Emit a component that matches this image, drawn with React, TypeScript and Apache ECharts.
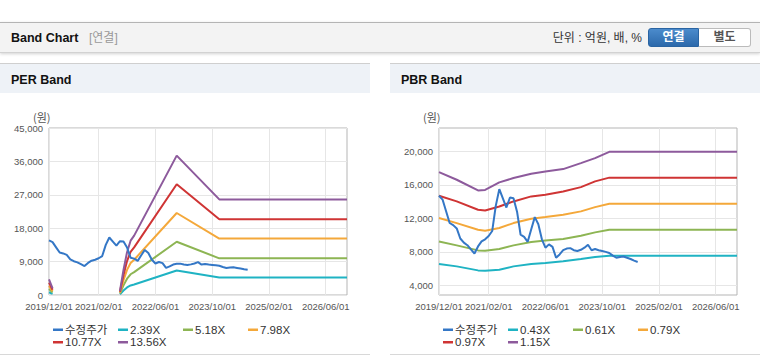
import React, { useEffect, useRef } from 'react';
import * as echarts from 'echarts';

// ---------- categories (monthly, 2019/12 .. 2026/12) ----------
const months: string[] = [];
for (let i = 0; i < 85; i++) {
  const t = 11 + i;
  const y = 2019 + Math.floor(t / 12);
  const m = (t % 12) + 1;
  months.push(`${y}/${String(m).padStart(2, '0')}/01`);
}
const xTickLabels = ['2019/12/01', '2021/02/01', '2022/06/01', '2023/10/01', '2025/02/01', '2026/06/01'];
const pbrTicks = [4000, 8000, 12000, 16000, 20000];

// ---------- adjusted price (monthly from 2019/12) ----------
const price = [
  14700, 14250, 12850, 11450, 11200, 10800, 9600, 9100, 8800, 8300,
  7800, 8650, 9250, 9500, 9900, 10500, 13500, 15500, 14400, 13300,
  14500, 14400, 12800, 10050, 9800, 9200, 10700, 12150, 11300, 9500,
  8500, 8900, 8600, 7300, 7700, 8200, 8400, 8450, 8200, 8100,
  8250, 8500, 8850, 8200, 8350, 8200, 8100, 8000, 7870, 7550,
  7300, 7400, 7450, 7300, 7150, 6950, 6800,
];

// ---------- PER bands: [month index, value] ----------
const per239 = [[0, 740], [1, 310], [2, null], [20, 190], [21, 1200], [22, 2030], [23, 2580], [24, 2840], [36, 6620], [48, 4700], [84, 4700]];
const per518 = [[0, 1610], [1, 670], [2, null], [20, 410], [21, 2590], [22, 4400], [23, 5590], [24, 6160], [36, 14350], [48, 9880], [84, 9880]];
const per798 = [[0, 2470], [1, 1040], [2, null], [20, 640], [21, 3990], [22, 6780], [23, 8620], [24, 9500], [36, 22100], [48, 15200], [84, 15200]];
const per1077 = [[0, 3340], [1, 1400], [2, null], [20, 860], [21, 5390], [22, 9150], [23, 11630], [24, 12820], [36, 29830], [48, 20420], [84, 20420]];
const per1356 = [[0, 4200], [1, 1760], [2, null], [20, 1080], [21, 6780], [22, 11530], [23, 14640], [24, 16000], [36, 37560], [48, 25760], [84, 25760]];

// ---------- PBR bands: [month index, value] ----------
const pbr043 = [[0, 6550], [5, 6270], [11, 5790], [13, 5750], [17, 5870], [21, 6270], [26, 6550], [30, 6670], [35, 6870], [40, 7140], [44, 7380], [48, 7540], [84, 7540]];
const pbr061 = [[0, 9250], [5, 8780], [11, 8180], [13, 8140], [17, 8340], [21, 8780], [26, 9170], [30, 9370], [35, 9530], [40, 9930], [44, 10330], [48, 10650], [84, 10650]];
const pbr079 = [[0, 12040], [5, 11440], [11, 10650], [13, 10530], [17, 10850], [21, 11440], [26, 11960], [30, 12160], [35, 12440], [40, 12840], [44, 13350], [48, 13750], [84, 13750]];
const pbr097 = [[0, 14710], [5, 14030], [11, 13030], [13, 12950], [17, 13430], [21, 14030], [26, 14630], [30, 14830], [35, 15220], [40, 15740], [44, 16420], [48, 16870], [84, 16870]];
const pbr115 = [[0, 17530], [5, 16620], [11, 15340], [13, 15400], [17, 16300], [21, 16820], [26, 17330], [30, 17610], [35, 17890], [40, 18610], [44, 19200], [48, 19950], [84, 19950]];

const perNames = ['수정주가', '2.39X', '5.18X', '7.98X', '10.77X', '13.56X'];
const pbrNames = ['수정주가', '0.43X', '0.61X', '0.79X', '0.97X', '1.15X'];
const colors = ['#3477c6', '#1fb3c3', '#8db553', '#f4a83a', '#cf3434', '#8d5a9c'];

const latin = "'Liberation Sans', Arial, 'Noto Sans CJK KR', sans-serif";
const tickIdx = new Set(xTickLabels.map((l) => months.indexOf(l)));
const showTick = (i: number) => tickIdx.has(i);
const fmt = (v: number) => v.toLocaleString('en-US');

function buildOption() {
  const axisFont = { fontSize: 9.5, color: '#555', fontFamily: latin };
  const grids = [49, 439].map((left) => ({
    left, top: 128, width: 298, height: 167, show: true,
    borderColor: '#b5b5b5', borderWidth: 1, backgroundColor: 'transparent',
  }));
  const xAxis = [0, 1].map((g) => ({
    type: 'category', gridIndex: g, data: months, boundaryGap: false,
    axisLine: { show: false }, axisTick: { show: false },
    axisLabel: { interval: showTick, margin: 7, ...axisFont },
    splitLine: { show: true, interval: showTick, lineStyle: { color: '#e6e6e6' } },
  }));
  const yAxis = [
    {
      type: 'value', gridIndex: 0, min: 0, max: 45000, interval: 9000,
      axisLine: { show: false }, axisTick: { show: false },
      axisLabel: { formatter: fmt, margin: 6, ...axisFont },
      splitLine: { lineStyle: { color: '#e6e6e6' } },
    },
    {
      type: 'value', gridIndex: 1, min: 2850, max: 22800,
      axisLine: { show: false },
      axisTick: { show: false, customValues: pbrTicks },
      axisLabel: { formatter: fmt, margin: 6, customValues: pbrTicks, ...axisFont },
      splitLine: { lineStyle: { color: '#e6e6e6' } },
    },
  ];
  const line = (name: string, data: any[], idx: number, color: string, z: number) => ({
    type: 'line', name, data, xAxisIndex: idx, yAxisIndex: idx, symbol: 'none',
    connectNulls: false, z,
    lineStyle: { width: 2, color }, itemStyle: { color },
  });
  const perBands = [per239, per518, per798, per1077, per1356];
  const pbrBands = [pbr043, pbr061, pbr079, pbr097, pbr115];
  const series: any[] = [];
  perBands.forEach((d, i) => series.push(line(perNames[i + 1], d, 0, colors[i + 1], 2)));
  series.push(line(perNames[0], price, 0, colors[0], 3));
  pbrBands.forEach((d, i) => series.push(line(pbrNames[i + 1], d, 1, colors[i + 1], 2)));
  series.push(line(pbrNames[0], price, 1, colors[0], 3));

  const cols = [53, 118, 183, 248];
  const legends: any[] = [];
  [[perNames, 0], [pbrNames, 390]].forEach(([names, off]: any) => {
    names.forEach((n: string, i: number) => {
      legends.push({
        data: [n], left: off + cols[i % 4], top: i < 4 ? 324 : 336.5, padding: 0,
        icon: 'rect', itemWidth: 10, itemHeight: 2.5, selectedMode: false,
        textStyle: { fontSize: 11.5, color: '#333', fontFamily: latin, padding: [0, 0, 0, -3] },
      });
    });
  });

  return {
    animation: false,
    grid: grids,
    xAxis, yAxis, series, legend: legends,
    graphic: [33, 423].map((left) => ({
      type: 'text', left, top: 111,
      style: { text: '(원)', font: "11px 'Noto Sans CJK KR', sans-serif", fill: '#555' },
    })),
  };
}

export default function App() {
  const ref = useRef<HTMLDivElement>(null);
  useEffect(() => {
    document.body.style.margin = '0';
    const chart = echarts.init(ref.current!, null, { renderer: 'svg' });
    chart.setOption(buildOption() as any);
    return () => chart.dispose();
  }, []);

  const font = latin;
  const abs = (s: any) => ({ position: 'absolute', ...s }) as React.CSSProperties;
  return (
    <div style={{ position: 'relative', width: 760, height: 364, background: '#fff', overflow: 'hidden', fontFamily: font }}>
      {/* top header bar */}
      <div style={abs({ left: 0, top: 22, width: 760, height: 29, background: '#f3f3f3', borderTop: '1px solid #b4b4b4', borderBottom: '1px solid #d2d2d2', boxShadow: '0 1px 3px rgba(0,0,0,0.18)' })} />
      <div style={abs({ left: 11, top: 31, fontSize: 12.5, fontWeight: 'bold', color: '#111', lineHeight: '15px' })}>Band Chart</div>
      <div style={abs({ left: 89, top: 31, fontSize: 12, color: '#999', lineHeight: '15px' })}>[연결]</div>
      <div style={abs({ right: 118, top: 31, fontSize: 12, color: '#333', lineHeight: '15px', whiteSpace: 'nowrap' })}>단위 : 억원, 배, %</div>
      <div style={abs({ left: 648, top: 28, width: 51, height: 19, boxSizing: 'border-box', background: 'linear-gradient(#4b8bcc, #2c69ab)', border: '1px solid #2a64a2', borderRadius: '3px 0 0 3px', color: '#fff', fontWeight: 'bold', fontSize: 12, textAlign: 'center', lineHeight: '17px' })}>연결</div>
      <div style={abs({ left: 699, top: 28, width: 52, height: 19, boxSizing: 'border-box', background: '#fff', border: '1px solid #bbb', borderLeft: 'none', borderRadius: '0 3px 3px 0', color: '#555', fontWeight: 'bold', fontSize: 12, textAlign: 'center', lineHeight: '17px' })}>별도</div>

      {/* panel headers */}
      <div style={abs({ left: 0, top: 63, width: 370, height: 29, background: '#eef2f7', borderTop: '1px solid #cfcfcf' })} />
      <div style={abs({ left: 11, top: 73, fontSize: 12.5, fontWeight: 'bold', color: '#111', lineHeight: '15px' })}>PER Band</div>
      <div style={abs({ left: 390, top: 63, width: 370, height: 29, background: '#eef2f7', borderTop: '1px solid #cfcfcf' })} />
      <div style={abs({ left: 401, top: 73, fontSize: 12.5, fontWeight: 'bold', color: '#111', lineHeight: '15px' })}>PBR Band</div>

      {/* panel bottom lines */}
      <div style={abs({ left: 0, top: 354, width: 370, height: 0, borderTop: '1px solid #d8d8d8' })} />
      <div style={abs({ left: 390, top: 354, width: 370, height: 0, borderTop: '1px solid #d8d8d8' })} />

      <div ref={ref} style={abs({ left: 0, top: 0, width: 760, height: 364 })} />
    </div>
  );
}
